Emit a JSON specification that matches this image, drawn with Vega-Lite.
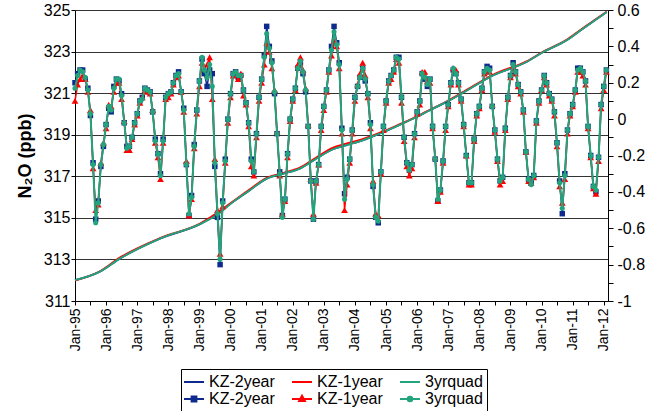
{
  "$schema": "https://vega.github.io/schema/vega-lite/v6.json",
  "autosize": {"type": "none"},
  "width": 533,
  "height": 291,
  "padding": {"left": 75, "top": 10, "right": 39, "bottom": 110},
  "config": {
    "font": "Liberation Sans",
    "view": {"stroke": null},
    "axis": {"domainColor": "#000", "tickColor": "#000", "labelColor": "#000", "titleColor": "#000", "labelFont": "Liberation Sans", "titleFont": "Liberation Sans"}
  },
  "datasets": {
    "trend": [
      {"date": "1995-01-01", "kz2_trend": 312.0, "kz1_trend": 311.98, "quad_trend": 312.0},
      {"date": "1995-10-15", "kz2_trend": 312.4, "kz1_trend": 312.42, "quad_trend": 312.4},
      {"date": "1996-06-15", "kz2_trend": 313.05, "kz1_trend": 313.1, "quad_trend": 313.05},
      {"date": "1997-09-25", "kz2_trend": 314.0, "kz1_trend": 314.03, "quad_trend": 314.0},
      {"date": "1999-01-08", "kz2_trend": 314.7, "kz1_trend": 314.73, "quad_trend": 314.7},
      {"date": "1999-07-20", "kz2_trend": 315.15, "kz1_trend": 315.22, "quad_trend": 315.12},
      {"date": "2000-02-01", "kz2_trend": 315.77, "kz1_trend": 315.8, "quad_trend": 315.77},
      {"date": "2000-08-15", "kz2_trend": 316.33, "kz1_trend": 316.38, "quad_trend": 316.33},
      {"date": "2001-03-01", "kz2_trend": 316.89, "kz1_trend": 316.93, "quad_trend": 316.89},
      {"date": "2001-09-15", "kz2_trend": 317.13, "kz1_trend": 317.17, "quad_trend": 317.13},
      {"date": "2002-03-25", "kz2_trend": 317.37, "kz1_trend": 317.42, "quad_trend": 317.37},
      {"date": "2002-10-08", "kz2_trend": 317.86, "kz1_trend": 317.92, "quad_trend": 317.86},
      {"date": "2003-04-20", "kz2_trend": 318.3, "kz1_trend": 318.38, "quad_trend": 318.3},
      {"date": "2003-09-28", "kz2_trend": 318.5, "kz1_trend": 318.58, "quad_trend": 318.5},
      {"date": "2004-04-08", "kz2_trend": 318.74, "kz1_trend": 318.8, "quad_trend": 318.74},
      {"date": "2004-10-22", "kz2_trend": 319.06, "kz1_trend": 319.1, "quad_trend": 319.06},
      {"date": "2005-05-05", "kz2_trend": 319.41, "kz1_trend": 319.44, "quad_trend": 319.41},
      {"date": "2005-11-18", "kz2_trend": 319.78, "kz1_trend": 319.8, "quad_trend": 319.78},
      {"date": "2006-05-30", "kz2_trend": 320.18, "kz1_trend": 320.2, "quad_trend": 320.18},
      {"date": "2006-12-12", "kz2_trend": 320.58, "kz1_trend": 320.6, "quad_trend": 320.58},
      {"date": "2007-06-28", "kz2_trend": 321.03, "kz1_trend": 321.06, "quad_trend": 321.03},
      {"date": "2008-06-15", "kz2_trend": 321.86, "kz1_trend": 321.9, "quad_trend": 321.86},
      {"date": "2009-07-08", "kz2_trend": 322.5, "kz1_trend": 322.53, "quad_trend": 322.5},
      {"date": "2010-01-22", "kz2_trend": 322.98, "kz1_trend": 323.0, "quad_trend": 322.98},
      {"date": "2010-10-22", "kz2_trend": 323.54, "kz1_trend": 323.57, "quad_trend": 323.54},
      {"date": "2011-03-28", "kz2_trend": 324.0, "kz1_trend": 324.03, "quad_trend": 324.0},
      {"date": "2012-02-05", "kz2_trend": 324.9, "kz1_trend": 324.92, "quad_trend": 324.9}
    ],
    "season": [
      {"date": "1995-01-01", "kz2": 0.20, "kz1": 0.10, "quad": 0.17},
      {"date": "1995-02-01", "kz2": 0.25, "kz1": 0.19, "quad": 0.24},
      {"date": "1995-03-01", "kz2": 0.27, "kz1": 0.22, "quad": 0.27},
      {"date": "1995-04-01", "kz2": 0.27, "kz1": 0.24, "quad": 0.26},
      {"date": "1995-05-01", "kz2": 0.22, "kz1": 0.22, "quad": 0.23},
      {"date": "1995-06-01", "kz2": 0.17, "kz1": 0.15, "quad": 0.16},
      {"date": "1995-07-01", "kz2": 0.02, "kz1": 0.05, "quad": 0.03},
      {"date": "1995-08-01", "kz2": -0.24, "kz1": -0.27, "quad": -0.25},
      {"date": "1995-09-01", "kz2": -0.55, "kz1": -0.50, "quad": -0.57},
      {"date": "1995-10-01", "kz2": -0.45, "kz1": -0.47, "quad": -0.46},
      {"date": "1995-11-01", "kz2": -0.26, "kz1": -0.24, "quad": -0.25},
      {"date": "1995-12-01", "kz2": -0.15, "kz1": -0.13, "quad": -0.14},
      {"date": "1996-01-01", "kz2": -0.03, "kz1": -0.05, "quad": -0.03},
      {"date": "1996-02-01", "kz2": 0.06, "kz1": 0.08, "quad": 0.07},
      {"date": "1996-03-01", "kz2": 0.04, "kz1": 0.07, "quad": 0.05},
      {"date": "1996-04-01", "kz2": 0.18, "kz1": 0.15, "quad": 0.17},
      {"date": "1996-05-01", "kz2": 0.22, "kz1": 0.20, "quad": 0.22},
      {"date": "1996-06-01", "kz2": 0.21, "kz1": 0.20, "quad": 0.22},
      {"date": "1996-07-01", "kz2": 0.14, "kz1": 0.11, "quad": 0.13},
      {"date": "1996-08-01", "kz2": -0.02, "kz1": -0.01, "quad": -0.02},
      {"date": "1996-09-01", "kz2": -0.15, "kz1": -0.17, "quad": -0.16},
      {"date": "1996-10-01", "kz2": -0.15, "kz1": -0.17, "quad": -0.15},
      {"date": "1996-11-01", "kz2": -0.10, "kz1": -0.11, "quad": -0.10},
      {"date": "1996-12-01", "kz2": -0.02, "kz1": -0.03, "quad": -0.02},
      {"date": "1997-01-01", "kz2": 0.03, "kz1": 0.02, "quad": 0.03},
      {"date": "1997-02-01", "kz2": 0.10, "kz1": 0.09, "quad": 0.10},
      {"date": "1997-03-01", "kz2": 0.12, "kz1": 0.12, "quad": 0.11},
      {"date": "1997-04-01", "kz2": 0.17, "kz1": 0.16, "quad": 0.17},
      {"date": "1997-05-01", "kz2": 0.16, "kz1": 0.15, "quad": 0.16},
      {"date": "1997-06-01", "kz2": 0.15, "kz1": 0.14, "quad": 0.15},
      {"date": "1997-07-01", "kz2": 0.04, "kz1": 0.05, "quad": 0.04},
      {"date": "1997-08-01", "kz2": -0.11, "kz1": -0.13, "quad": -0.12},
      {"date": "1997-09-01", "kz2": -0.19, "kz1": -0.21, "quad": -0.19},
      {"date": "1997-10-01", "kz2": -0.30, "kz1": -0.33, "quad": -0.31},
      {"date": "1997-11-01", "kz2": -0.11, "kz1": -0.13, "quad": -0.12},
      {"date": "1997-12-01", "kz2": 0.12, "kz1": 0.11, "quad": 0.12},
      {"date": "1998-01-01", "kz2": 0.14, "kz1": 0.12, "quad": 0.14},
      {"date": "1998-02-01", "kz2": 0.15, "kz1": 0.14, "quad": 0.15},
      {"date": "1998-03-01", "kz2": 0.20, "kz1": 0.19, "quad": 0.20},
      {"date": "1998-04-01", "kz2": 0.24, "kz1": 0.23, "quad": 0.24},
      {"date": "1998-05-01", "kz2": 0.26, "kz1": 0.24, "quad": 0.25},
      {"date": "1998-06-01", "kz2": 0.15, "kz1": 0.15, "quad": 0.15},
      {"date": "1998-07-01", "kz2": 0.06, "kz1": 0.04, "quad": 0.05},
      {"date": "1998-08-01", "kz2": -0.25, "kz1": -0.23, "quad": -0.25},
      {"date": "1998-09-01", "kz2": -0.53, "kz1": -0.53, "quad": -0.52},
      {"date": "1998-10-01", "kz2": -0.42, "kz1": -0.44, "quad": -0.43},
      {"date": "1998-11-01", "kz2": -0.14, "kz1": -0.16, "quad": -0.15},
      {"date": "1998-12-01", "kz2": 0.05, "kz1": 0.03, "quad": 0.05},
      {"date": "1999-01-01", "kz2": 0.21, "kz1": 0.18, "quad": 0.21},
      {"date": "1999-02-01", "kz2": 0.33, "kz1": 0.31, "quad": 0.34},
      {"date": "1999-03-01", "kz2": 0.25, "kz1": 0.28, "quad": 0.27},
      {"date": "1999-04-01", "kz2": 0.18, "kz1": 0.30, "quad": 0.23},
      {"date": "1999-05-01", "kz2": 0.27, "kz1": 0.34, "quad": 0.30},
      {"date": "1999-06-01", "kz2": 0.25, "kz1": 0.11, "quad": 0.18},
      {"date": "1999-07-01", "kz2": -0.26, "kz1": -0.22, "quad": -0.24},
      {"date": "1999-08-01", "kz2": -0.54, "kz1": -0.50, "quad": -0.52},
      {"date": "1999-09-01", "kz2": -0.80, "kz1": -0.74, "quad": -0.77},
      {"date": "1999-10-01", "kz2": -0.45, "kz1": -0.48, "quad": -0.46},
      {"date": "1999-11-01", "kz2": -0.22, "kz1": -0.24, "quad": -0.23},
      {"date": "1999-12-01", "kz2": 0.00, "kz1": -0.02, "quad": 0.00},
      {"date": "2000-01-01", "kz2": 0.14, "kz1": 0.12, "quad": 0.14},
      {"date": "2000-02-01", "kz2": 0.25, "kz1": 0.24, "quad": 0.25},
      {"date": "2000-03-01", "kz2": 0.26, "kz1": 0.26, "quad": 0.26},
      {"date": "2000-04-01", "kz2": 0.23, "kz1": 0.22, "quad": 0.24},
      {"date": "2000-05-01", "kz2": 0.24, "kz1": 0.25, "quad": 0.24},
      {"date": "2000-06-01", "kz2": 0.16, "kz1": 0.13, "quad": 0.16},
      {"date": "2000-07-01", "kz2": 0.09, "kz1": 0.08, "quad": 0.09},
      {"date": "2000-08-01", "kz2": -0.02, "kz1": -0.04, "quad": -0.02},
      {"date": "2000-09-01", "kz2": -0.22, "kz1": -0.26, "quad": -0.23},
      {"date": "2000-10-01", "kz2": -0.29, "kz1": -0.31, "quad": -0.29},
      {"date": "2000-11-01", "kz2": -0.08, "kz1": -0.10, "quad": -0.08},
      {"date": "2000-12-01", "kz2": 0.12, "kz1": 0.10, "quad": 0.12},
      {"date": "2001-01-01", "kz2": 0.22, "kz1": 0.20, "quad": 0.22},
      {"date": "2001-02-01", "kz2": 0.35, "kz1": 0.30, "quad": 0.34},
      {"date": "2001-03-01", "kz2": 0.51, "kz1": 0.42, "quad": 0.47},
      {"date": "2001-04-01", "kz2": 0.40, "kz1": 0.37, "quad": 0.39},
      {"date": "2001-05-01", "kz2": 0.32, "kz1": 0.28, "quad": 0.31},
      {"date": "2001-06-01", "kz2": 0.14, "kz1": 0.16, "quad": 0.15},
      {"date": "2001-07-01", "kz2": -0.08, "kz1": -0.07, "quad": -0.08},
      {"date": "2001-08-01", "kz2": -0.29, "kz1": -0.31, "quad": -0.30},
      {"date": "2001-09-01", "kz2": -0.53, "kz1": -0.52, "quad": -0.54},
      {"date": "2001-10-01", "kz2": -0.44, "kz1": -0.45, "quad": -0.44},
      {"date": "2001-11-01", "kz2": -0.19, "kz1": -0.21, "quad": -0.19},
      {"date": "2001-12-01", "kz2": 0.00, "kz1": -0.01, "quad": 0.00},
      {"date": "2002-01-01", "kz2": 0.11, "kz1": 0.10, "quad": 0.11},
      {"date": "2002-02-01", "kz2": 0.17, "kz1": 0.16, "quad": 0.17},
      {"date": "2002-03-01", "kz2": 0.28, "kz1": 0.30, "quad": 0.28},
      {"date": "2002-04-01", "kz2": 0.31, "kz1": 0.34, "quad": 0.32},
      {"date": "2002-05-01", "kz2": 0.25, "kz1": 0.27, "quad": 0.26},
      {"date": "2002-06-01", "kz2": 0.15, "kz1": 0.17, "quad": 0.16},
      {"date": "2002-07-01", "kz2": -0.04, "kz1": -0.03, "quad": -0.04},
      {"date": "2002-08-01", "kz2": -0.34, "kz1": -0.33, "quad": -0.34},
      {"date": "2002-09-01", "kz2": -0.55, "kz1": -0.52, "quad": -0.55},
      {"date": "2002-10-01", "kz2": -0.34, "kz1": -0.35, "quad": -0.34},
      {"date": "2002-11-01", "kz2": -0.25, "kz1": -0.25, "quad": -0.25},
      {"date": "2002-12-01", "kz2": -0.04, "kz1": -0.06, "quad": -0.04},
      {"date": "2003-01-01", "kz2": 0.07, "kz1": 0.05, "quad": 0.07},
      {"date": "2003-02-01", "kz2": 0.16, "kz1": 0.15, "quad": 0.16},
      {"date": "2003-03-01", "kz2": 0.27, "kz1": 0.26, "quad": 0.27},
      {"date": "2003-04-01", "kz2": 0.40, "kz1": 0.35, "quad": 0.38},
      {"date": "2003-05-01", "kz2": 0.51, "kz1": 0.43, "quad": 0.48},
      {"date": "2003-06-01", "kz2": 0.42, "kz1": 0.40, "quad": 0.41},
      {"date": "2003-07-01", "kz2": 0.31, "kz1": 0.28, "quad": 0.30},
      {"date": "2003-08-01", "kz2": -0.05, "kz1": -0.08, "quad": -0.06},
      {"date": "2003-09-01", "kz2": -0.41, "kz1": -0.50, "quad": -0.44},
      {"date": "2003-10-01", "kz2": -0.32, "kz1": -0.36, "quad": -0.33},
      {"date": "2003-11-01", "kz2": -0.22, "kz1": -0.24, "quad": -0.22},
      {"date": "2003-12-01", "kz2": -0.06, "kz1": -0.08, "quad": -0.06},
      {"date": "2004-01-01", "kz2": 0.12, "kz1": 0.10, "quad": 0.12},
      {"date": "2004-02-01", "kz2": 0.18, "kz1": 0.19, "quad": 0.18},
      {"date": "2004-03-01", "kz2": 0.23, "kz1": 0.25, "quad": 0.23},
      {"date": "2004-04-01", "kz2": 0.28, "kz1": 0.31, "quad": 0.28},
      {"date": "2004-05-01", "kz2": 0.21, "kz1": 0.24, "quad": 0.22},
      {"date": "2004-06-01", "kz2": 0.14, "kz1": 0.12, "quad": 0.14},
      {"date": "2004-07-01", "kz2": -0.02, "kz1": -0.05, "quad": -0.03},
      {"date": "2004-08-01", "kz2": -0.37, "kz1": -0.34, "quad": -0.36},
      {"date": "2004-09-01", "kz2": -0.54, "kz1": -0.52, "quad": -0.54},
      {"date": "2004-10-01", "kz2": -0.57, "kz1": -0.53, "quad": -0.56},
      {"date": "2004-11-01", "kz2": -0.29, "kz1": -0.30, "quad": -0.29},
      {"date": "2004-12-01", "kz2": -0.04, "kz1": -0.06, "quad": -0.04},
      {"date": "2005-01-01", "kz2": 0.10, "kz1": 0.09, "quad": 0.10},
      {"date": "2005-02-01", "kz2": 0.21, "kz1": 0.20, "quad": 0.21},
      {"date": "2005-03-01", "kz2": 0.24, "kz1": 0.22, "quad": 0.24},
      {"date": "2005-04-01", "kz2": 0.27, "kz1": 0.26, "quad": 0.27},
      {"date": "2005-05-01", "kz2": 0.34, "kz1": 0.33, "quad": 0.34},
      {"date": "2005-06-01", "kz2": 0.34, "kz1": 0.31, "quad": 0.33},
      {"date": "2005-07-01", "kz2": 0.12, "kz1": 0.09, "quad": 0.12},
      {"date": "2005-08-01", "kz2": -0.10, "kz1": -0.12, "quad": -0.10},
      {"date": "2005-09-01", "kz2": -0.24, "kz1": -0.26, "quad": -0.24},
      {"date": "2005-10-01", "kz2": -0.28, "kz1": -0.31, "quad": -0.28},
      {"date": "2005-11-01", "kz2": -0.25, "kz1": -0.27, "quad": -0.25},
      {"date": "2005-12-01", "kz2": -0.08, "kz1": -0.10, "quad": -0.08},
      {"date": "2006-01-01", "kz2": 0.04, "kz1": 0.03, "quad": 0.04},
      {"date": "2006-02-01", "kz2": 0.10, "kz1": 0.08, "quad": 0.10},
      {"date": "2006-03-01", "kz2": 0.25, "kz1": 0.26, "quad": 0.25},
      {"date": "2006-04-01", "kz2": 0.22, "kz1": 0.26, "quad": 0.23},
      {"date": "2006-05-01", "kz2": 0.18, "kz1": 0.21, "quad": 0.19},
      {"date": "2006-06-01", "kz2": 0.22, "kz1": 0.20, "quad": 0.22},
      {"date": "2006-07-01", "kz2": -0.04, "kz1": -0.05, "quad": -0.04},
      {"date": "2006-08-01", "kz2": -0.22, "kz1": -0.21, "quad": -0.22},
      {"date": "2006-09-01", "kz2": -0.45, "kz1": -0.45, "quad": -0.44},
      {"date": "2006-10-01", "kz2": -0.39, "kz1": -0.40, "quad": -0.39},
      {"date": "2006-11-01", "kz2": -0.23, "kz1": -0.24, "quad": -0.23},
      {"date": "2006-12-01", "kz2": -0.04, "kz1": -0.06, "quad": -0.04},
      {"date": "2007-01-01", "kz2": 0.08, "kz1": 0.07, "quad": 0.08},
      {"date": "2007-02-01", "kz2": 0.20, "kz1": 0.19, "quad": 0.20},
      {"date": "2007-03-01", "kz2": 0.27, "kz1": 0.28, "quad": 0.28},
      {"date": "2007-04-01", "kz2": 0.25, "kz1": 0.27, "quad": 0.25},
      {"date": "2007-05-01", "kz2": 0.20, "kz1": 0.19, "quad": 0.20},
      {"date": "2007-06-01", "kz2": 0.11, "kz1": 0.10, "quad": 0.11},
      {"date": "2007-07-01", "kz2": -0.03, "kz1": -0.04, "quad": -0.03},
      {"date": "2007-08-01", "kz2": -0.20, "kz1": -0.20, "quad": -0.20},
      {"date": "2007-09-01", "kz2": -0.35, "kz1": -0.36, "quad": -0.35},
      {"date": "2007-10-01", "kz2": -0.35, "kz1": -0.36, "quad": -0.35},
      {"date": "2007-11-01", "kz2": -0.11, "kz1": -0.12, "quad": -0.11},
      {"date": "2007-12-01", "kz2": 0.03, "kz1": 0.02, "quad": 0.03},
      {"date": "2008-01-01", "kz2": 0.07, "kz1": 0.06, "quad": 0.07},
      {"date": "2008-02-01", "kz2": 0.17, "kz1": 0.16, "quad": 0.17},
      {"date": "2008-03-01", "kz2": 0.26, "kz1": 0.25, "quad": 0.26},
      {"date": "2008-04-01", "kz2": 0.29, "kz1": 0.27, "quad": 0.28},
      {"date": "2008-05-01", "kz2": 0.28, "kz1": 0.26, "quad": 0.27},
      {"date": "2008-06-01", "kz2": 0.07, "kz1": 0.08, "quad": 0.07},
      {"date": "2008-07-01", "kz2": -0.06, "kz1": -0.07, "quad": -0.06},
      {"date": "2008-08-01", "kz2": -0.22, "kz1": -0.23, "quad": -0.22},
      {"date": "2008-09-01", "kz2": -0.34, "kz1": -0.36, "quad": -0.34},
      {"date": "2008-10-01", "kz2": -0.32, "kz1": -0.34, "quad": -0.32},
      {"date": "2008-11-01", "kz2": -0.05, "kz1": -0.06, "quad": -0.05},
      {"date": "2008-12-01", "kz2": 0.12, "kz1": 0.11, "quad": 0.12},
      {"date": "2009-01-01", "kz2": 0.24, "kz1": 0.23, "quad": 0.24},
      {"date": "2009-02-01", "kz2": 0.31, "kz1": 0.29, "quad": 0.30},
      {"date": "2009-03-01", "kz2": 0.26, "kz1": 0.25, "quad": 0.26},
      {"date": "2009-04-01", "kz2": 0.19, "kz1": 0.18, "quad": 0.19},
      {"date": "2009-05-01", "kz2": 0.15, "kz1": 0.14, "quad": 0.15},
      {"date": "2009-06-01", "kz2": 0.05, "kz1": 0.04, "quad": 0.05},
      {"date": "2009-07-01", "kz2": -0.18, "kz1": -0.18, "quad": -0.18},
      {"date": "2009-08-01", "kz2": -0.33, "kz1": -0.34, "quad": -0.33},
      {"date": "2009-09-01", "kz2": -0.35, "kz1": -0.35, "quad": -0.36},
      {"date": "2009-10-01", "kz2": -0.31, "kz1": -0.32, "quad": -0.31},
      {"date": "2009-11-01", "kz2": -0.01, "kz1": -0.02, "quad": -0.01},
      {"date": "2009-12-01", "kz2": 0.10, "kz1": 0.09, "quad": 0.10},
      {"date": "2010-01-01", "kz2": 0.16, "kz1": 0.16, "quad": 0.16},
      {"date": "2010-02-01", "kz2": 0.24, "kz1": 0.23, "quad": 0.24},
      {"date": "2010-03-01", "kz2": 0.20, "kz1": 0.19, "quad": 0.20},
      {"date": "2010-04-01", "kz2": 0.14, "kz1": 0.13, "quad": 0.14},
      {"date": "2010-05-01", "kz2": 0.11, "kz1": 0.10, "quad": 0.11},
      {"date": "2010-06-01", "kz2": 0.04, "kz1": 0.02, "quad": 0.04},
      {"date": "2010-07-01", "kz2": -0.13, "kz1": -0.15, "quad": -0.13},
      {"date": "2010-08-01", "kz2": -0.34, "kz1": -0.37, "quad": -0.35},
      {"date": "2010-09-01", "kz2": -0.52, "kz1": -0.46, "quad": -0.49},
      {"date": "2010-10-01", "kz2": -0.30, "kz1": -0.33, "quad": -0.31},
      {"date": "2010-11-01", "kz2": -0.06, "kz1": -0.08, "quad": -0.06},
      {"date": "2010-12-01", "kz2": 0.03, "kz1": 0.02, "quad": 0.03},
      {"date": "2011-01-01", "kz2": 0.08, "kz1": 0.07, "quad": 0.08},
      {"date": "2011-02-01", "kz2": 0.16, "kz1": 0.15, "quad": 0.16},
      {"date": "2011-03-01", "kz2": 0.28, "kz1": 0.26, "quad": 0.27},
      {"date": "2011-04-01", "kz2": 0.28, "kz1": 0.26, "quad": 0.28},
      {"date": "2011-05-01", "kz2": 0.26, "kz1": 0.24, "quad": 0.26},
      {"date": "2011-06-01", "kz2": 0.21, "kz1": 0.19, "quad": 0.21},
      {"date": "2011-07-01", "kz2": -0.04, "kz1": -0.05, "quad": -0.04},
      {"date": "2011-08-01", "kz2": -0.20, "kz1": -0.21, "quad": -0.20},
      {"date": "2011-09-01", "kz2": -0.37, "kz1": -0.38, "quad": -0.37},
      {"date": "2011-10-01", "kz2": -0.40, "kz1": -0.41, "quad": -0.39},
      {"date": "2011-11-01", "kz2": -0.21, "kz1": -0.23, "quad": -0.21},
      {"date": "2011-12-01", "kz2": 0.08, "kz1": 0.06, "quad": 0.08},
      {"date": "2012-01-01", "kz2": 0.18, "kz1": 0.16, "quad": 0.18},
      {"date": "2012-02-01", "kz2": 0.27, "kz1": 0.26, "quad": 0.27}
    ]
  },
  "encoding": {
    "x": {
      "field": "date",
      "type": "temporal",
      "scale": {"type": "utc", "domain": [{"year": 1995, "month": 1, "date": 1, "utc": true}, {"year": 2012, "month": 2, "date": 20, "utc": true}]},
      "axis": {
        "title": null,
        "grid": false,
        "values": [
          {"year": 1995, "month": 1, "date": 1, "utc": true}, {"year": 1995, "month": 7, "date": 1, "utc": true},
          {"year": 1996, "month": 1, "date": 1, "utc": true}, {"year": 1996, "month": 7, "date": 1, "utc": true},
          {"year": 1997, "month": 1, "date": 1, "utc": true}, {"year": 1997, "month": 7, "date": 1, "utc": true},
          {"year": 1998, "month": 1, "date": 1, "utc": true}, {"year": 1998, "month": 7, "date": 1, "utc": true},
          {"year": 1999, "month": 1, "date": 1, "utc": true}, {"year": 1999, "month": 7, "date": 1, "utc": true},
          {"year": 2000, "month": 1, "date": 1, "utc": true}, {"year": 2000, "month": 7, "date": 1, "utc": true},
          {"year": 2001, "month": 1, "date": 1, "utc": true}, {"year": 2001, "month": 7, "date": 1, "utc": true},
          {"year": 2002, "month": 1, "date": 1, "utc": true}, {"year": 2002, "month": 7, "date": 1, "utc": true},
          {"year": 2003, "month": 1, "date": 1, "utc": true}, {"year": 2003, "month": 7, "date": 1, "utc": true},
          {"year": 2004, "month": 1, "date": 1, "utc": true}, {"year": 2004, "month": 7, "date": 1, "utc": true},
          {"year": 2005, "month": 1, "date": 1, "utc": true}, {"year": 2005, "month": 7, "date": 1, "utc": true},
          {"year": 2006, "month": 1, "date": 1, "utc": true}, {"year": 2006, "month": 7, "date": 1, "utc": true},
          {"year": 2007, "month": 1, "date": 1, "utc": true}, {"year": 2007, "month": 7, "date": 1, "utc": true},
          {"year": 2008, "month": 1, "date": 1, "utc": true}, {"year": 2008, "month": 7, "date": 1, "utc": true},
          {"year": 2009, "month": 1, "date": 1, "utc": true}, {"year": 2009, "month": 7, "date": 1, "utc": true},
          {"year": 2010, "month": 1, "date": 1, "utc": true}, {"year": 2010, "month": 7, "date": 1, "utc": true},
          {"year": 2011, "month": 1, "date": 1, "utc": true}, {"year": 2011, "month": 7, "date": 1, "utc": true},
          {"year": 2012, "month": 1, "date": 1, "utc": true}
        ],
        "labelExpr": "utcmonth(datum.value) === 0 ? utcFormat(datum.value, '%b-%y') : ''",
        "labelAngle": -90,
        "labelFontSize": 14,
        "labelPadding": 3,
        "tickSize": 4,
        "labelOverlap": false,
        "labelFlush": false,
        "domainColor": "#000",
        "domainWidth": 1
      }
    },
    "color": {
      "field": "series",
      "type": "nominal",
      "scale": {
        "domain": ["kz2_trend", "kz1_trend", "quad_trend", "kz2", "kz1", "quad"],
        "range": ["#0f2a8e", "#ff0000", "#22a57c", "#0f2a8e", "#ff0000", "#22a57c"]
      },
      "legend": {
        "orient": "none",
        "legendX": 106,
        "legendY": 359,
        "direction": "horizontal",
        "columns": 3,
        "title": null,
        "labelExpr": "indexof(datum.value, 'kz2') === 0 ? 'KZ-2year' : indexof(datum.value, 'kz1') === 0 ? 'KZ-1year' : '3yrquad'",
        "labelFontSize": 16,
        "labelFont": "Liberation Sans",
        "labelColor": "#000",
        "labelLimit": 200,
        "symbolSize": 256,
        "symbolStrokeWidth": 2,
        "labelOffset": 6,
        "columnPadding": 13,
        "rowPadding": 0,
        "padding": 4,
        "strokeColor": "#000",
        "fillColor": "#ffffff",
        "cornerRadius": 0,
        "encode": {
          "symbols": {
            "update": {
              "shape": {"signal": "indexof(datum.value, '_trend') > 0 ? 'M-1.25,0H1.25' : datum.value === 'kz2' ? 'M-1.25,0H1.25M-0.3,-0.3H0.3V0.3H-0.3Z' : datum.value === 'kz1' ? 'M-1.25,0H1.25M0,-0.4L0.36,0.26H-0.36Z' : 'M-1.25,0H1.25M0.28,0A0.28,0.28,0,1,1,-0.28,0A0.28,0.28,0,1,1,0.28,0Z'"},
              "fill": {"signal": "scale('color', datum.value)"},
              "stroke": {"signal": "scale('color', datum.value)"},
              "strokeWidth": {"value": 2},
              "opacity": {"value": 1}
            }
          }
        }
      }
    }
  },
  "layer": [
    {
      "data": {"name": "trend"},
      "transform": [{"fold": ["kz2_trend", "kz1_trend", "quad_trend"], "as": ["series", "value"]}],
      "mark": {"type": "line", "strokeWidth": 1.8, "interpolate": "monotone"},
      "encoding": {
        "y": {
          "field": "value",
          "type": "quantitative",
          "scale": {"domain": [311, 325], "nice": false, "zero": false},
          "axis": {
            "orient": "left",
            "values": [311, 313, 315, 317, 319, 321, 323, 325],
            "format": "d",
            "title": "N₂O (ppb)",
            "titleFontSize": 18,
            "titleFontWeight": "bold",
            "titlePadding": 9,
            "labelFontSize": 16,
            "labelPadding": 1,
            "tickSize": 4,
            "labelFlush": false,
            "labelOverlap": false,
            "grid": true,
            "gridColor": "#333333",
            "gridWidth": 1,
            "domainColor": "#000"
          }
        }
      }
    },
    {
      "data": {"name": "season"},
      "transform": [{"fold": ["kz2", "kz1", "quad"], "as": ["series", "value"]}],
      "encoding": {
        "y": {
          "field": "value",
          "type": "quantitative",
          "scale": {"domain": [-1, 0.6], "nice": false, "zero": false},
          "axis": {
            "orient": "right",
            "title": null,
            "values": [-1, -0.9, -0.8, -0.7, -0.6, -0.5, -0.4, -0.3, -0.2, -0.1, 0, 0.1, 0.2, 0.3, 0.4, 0.5, 0.6],
            "labelExpr": "abs(round(datum.value * 10)) % 2 === 0 ? '' + datum.value : ''",
            "labelFontSize": 16,
            "labelPadding": 4,
            "tickSize": 5,
            "labelFlush": false,
            "labelOverlap": false,
            "grid": false,
            "domainColor": "#000"
          }
        }
      },
      "layer": [
        {"transform": [{"filter": "datum.series === 'kz2'"}], "mark": {"type": "line", "strokeWidth": 1.5}},
        {"transform": [{"filter": "datum.series === 'kz2'"}], "mark": {"type": "point", "shape": "square", "filled": true, "size": 30, "opacity": 1}},
        {"transform": [{"filter": "datum.series === 'kz1'"}], "mark": {"type": "line", "strokeWidth": 1.5}},
        {"transform": [{"filter": "datum.series === 'kz1'"}], "mark": {"type": "point", "shape": "triangle-up", "filled": true, "size": 46, "opacity": 1}},
        {"transform": [{"filter": "datum.series === 'quad'"}], "mark": {"type": "line", "strokeWidth": 2}},
        {"transform": [{"filter": "datum.series === 'quad'"}], "mark": {"type": "point", "shape": "circle", "filled": true, "size": 26, "opacity": 1}}
      ]
    }
  ],
  "resolve": {"scale": {"y": "independent"}}
}
